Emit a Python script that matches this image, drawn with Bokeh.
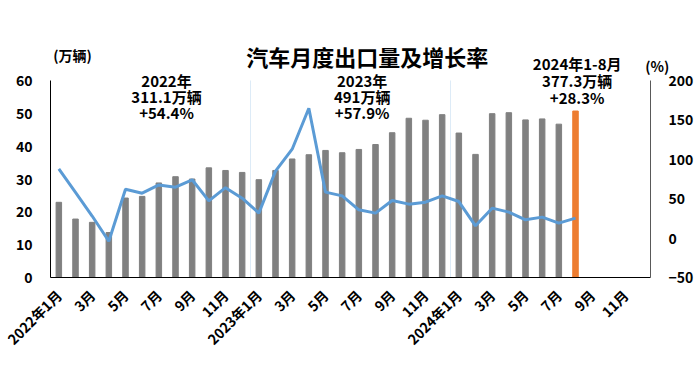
import math
from bokeh.plotting import figure
from bokeh.models import Range1d, LinearAxis, FixedTicker, Label, ColumnDataSource
from bokeh.embed import file_html
from bokeh.resources import INLINE

# ---------------- data ----------------
tick_labels = ["2022年1月", "3月", "5月", "7月", "9月", "11月",
               "2023年1月", "3月", "5月", "7月", "9月", "11月",
               "2024年1月", "3月", "5月", "7月", "9月", "11月"]
n_months = 36  # 2022-01 .. 2024-12

volume_2022 = [22.9, 17.8, 16.8, 13.7, 24.2, 24.7, 28.8, 30.7, 30.0, 33.4, 32.6, 32.0]
volume_2023 = [29.8, 32.6, 36.1, 37.4, 38.7, 38.0, 39.0, 40.5, 44.1, 48.5, 47.9, 49.6]
volume_2024 = [44.0, 37.5, 49.9, 50.2, 48.0, 48.3, 46.7, 50.7]

growth_2022 = [87.8, 58.0, 28.0, -4.0, 62.0, 57.0, 67.5, 64.6, 74.0, 47.3, 64.0, 50.7]
growth_2023 = [31.7, 85.0, 112.8, 164.8, 58.3, 53.6, 35.9, 31.7, 47.7, 43.1, 45.6, 53.6]
growth_2024 = [46.4, 15.6, 38.0, 33.0, 23.2, 26.6, 19.0, 25.3]

left_ticks = [0, 10, 20, 30, 40, 50, 60]
right_ticks = [-50, 0, 50, 100, 150, 200]

title_text = "汽车月度出口量及增长率"
notes_2022 = ["2022年", "311.1万辆", "+54.4%"]
notes_2023 = ["2023年", "491万辆", "+57.9%"]
notes_2024 = ["2024年1-8月", "377.3万辆", "+28.3%"]

# ---------------- layout / styling ----------------
FONT = "Noto Sans CJK SC"
GRAY = "#808080"
ORANGE = "#ed7d31"
BLUE = "#5b9bd5"

FIG_W, FIG_H = 700, 374          # whole canvas is the frame
AX_L, AX_T = 50, 80              # top-left corner of the axes box in canvas px
AX_W, AX_H = 600, 197            # size of the axes box

px_month = AX_W / n_months
L0, L1 = left_ticks[0], left_ticks[-1]
R0, R1 = right_ticks[0], right_ticks[-1]
l_px = AX_H / (L1 - L0)
r_px = AX_H / (R1 - R0)
bottom_gap = FIG_H - AX_T - AX_H
top_gap = AX_T

x_range = Range1d(-0.5 - AX_L / px_month, -0.5 + (FIG_W - AX_L) / px_month)
y_range = Range1d(L0 - bottom_gap / l_px, L1 + top_gap / l_px)
pct_range = Range1d(R0 - bottom_gap / r_px, R1 + top_gap / r_px)

volume = volume_2022 + volume_2023 + volume_2024
growth = growth_2022 + growth_2023 + growth_2024
xs = list(range(len(volume)))
colors = [GRAY] * (len(volume) - 1) + [ORANGE]

src = ColumnDataSource(dict(x=xs, v=volume, g=growth, c=colors))

p = figure(frame_width=FIG_W, frame_height=FIG_H,
           x_range=x_range, y_range=y_range,
           output_backend="svg", toolbar_location=None,
           min_border=0, min_border_left=0, min_border_right=0,
           min_border_top=0, min_border_bottom=0)
p.extra_y_ranges = {"pct": pct_range}
p.outline_line_color = None
p.xgrid.grid_line_color = None
p.ygrid.grid_line_color = None
p.background_fill_color = "white"
p.border_fill_color = "white"

# faint year separators
sep_x = [len(volume_2022) - 0.5, len(volume_2022) + len(volume_2023) - 0.5]
p.segment(x0=sep_x, x1=sep_x, y0=[L0] * 2, y1=[L1] * 2, line_color="#ddebf7", line_width=1)

p.vbar(x="x", top="v", width=0.33, color="c", source=src)
p.line(x="x", y="g", y_range_name="pct", line_color=BLUE, line_width=3, source=src)

# axes
def style_axis(ax):
    ax.major_tick_line_color = None
    ax.minor_tick_line_color = None
    ax.major_label_text_font = FONT
    ax.major_label_text_font_style = "bold"
    ax.major_label_text_color = "black"

xa = p.xaxis[0]
xa.ticker = FixedTicker(ticks=list(range(0, n_months, 2)))
xa.major_label_overrides = {i * 2: t for i, t in enumerate(tick_labels)}
xa.major_label_orientation = math.pi / 4
xa.axis_line_color = "black"
xa.major_label_text_font_size = "14px"
xa.major_label_standoff = 9
xa.bounds = (-0.5, n_months - 0.5)
xa.fixed_location = L0
style_axis(xa)

ya = p.yaxis[0]
ya.ticker = FixedTicker(ticks=left_ticks)
ya.axis_line_color = "black"
ya.major_label_text_font_size = "14px"
ya.major_label_standoff = 12
ya.bounds = (L0, L1)
ya.fixed_location = -0.5
style_axis(ya)

ry = LinearAxis(y_range_name="pct", ticker=FixedTicker(ticks=right_ticks),
                fixed_location=n_months - 0.5, bounds=(R0, R1))
ry.axis_line_color = "#595959"
ry.major_label_text_font_size = "14px"
ry.major_label_standoff = 12
style_axis(ry)
p.add_layout(ry, "right")

def add_text(x, y, text, size="15px", bold=True):
    p.add_layout(Label(x=x, y=y, text=text, text_align="center", text_baseline="middle",
                       text_font=FONT, text_font_size=size,
                       text_font_style="bold" if bold else "normal", text_color="black"))

add_text(18.5, 67.6, title_text, size="22px")
add_text(0.82, 67.9, "(万辆)", size="14px")
add_text(35.9, 64.3, "(%)", size="14px")
for i, t in enumerate(notes_2022):
    add_text(6.46, 60.0 - 4.85 * i, t)
for i, t in enumerate(notes_2023):
    add_text(18.2, 60.0 - 4.85 * i, t)
for i, t in enumerate(notes_2024):
    add_text(31.1, 65.3 - 5.2 * i, t)

open("out.html", "w").write(file_html(p, INLINE))
